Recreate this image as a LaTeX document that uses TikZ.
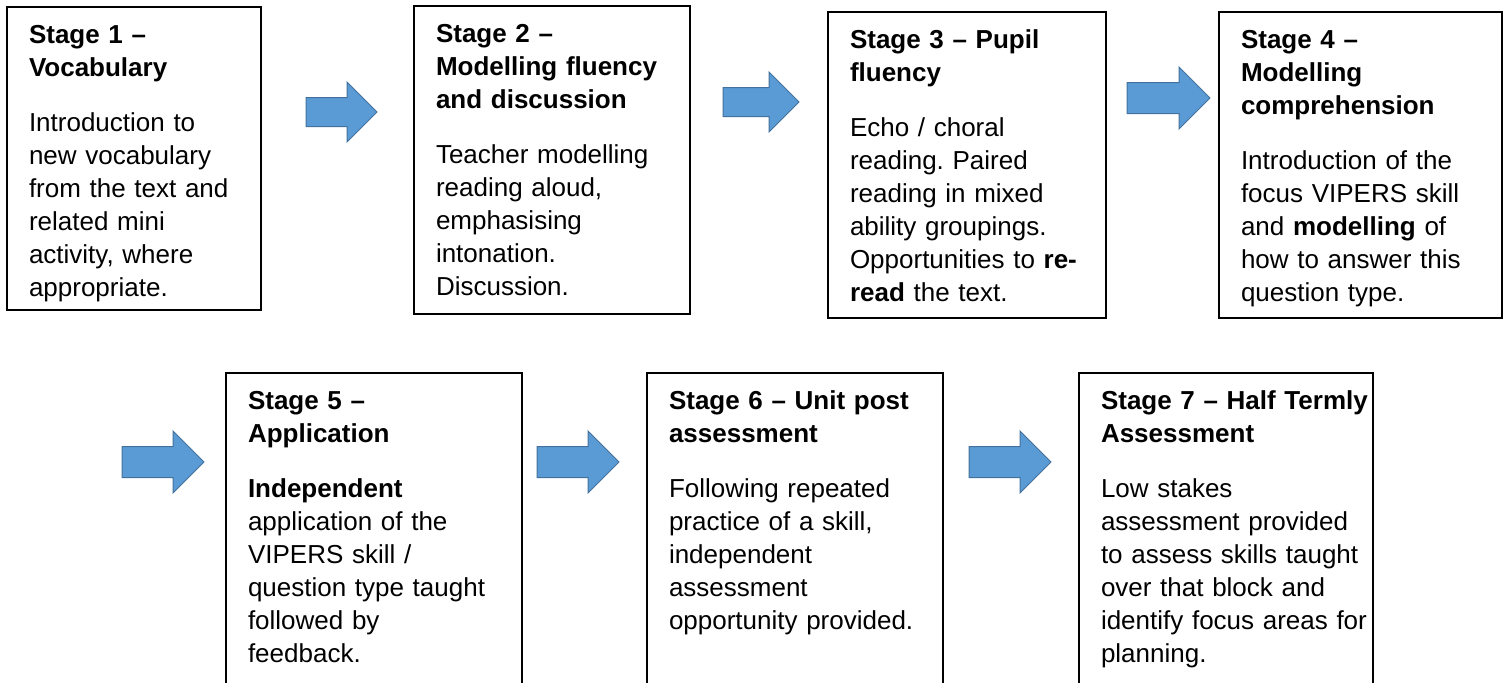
\documentclass[tikz,border=0pt]{standalone}
\usepackage{fontspec}
\setmainfont{Liberation Sans}
\usetikzlibrary{shapes.arrows}

\definecolor{arrowblue}{HTML}{5B9BD5}
\definecolor{arrowline}{HTML}{41719C}

\tikzset{
	stagebox/.style={draw=black, line width=0.75pt, rectangle, anchor=north west, align=left,
		inner xsep=0pt, inner ysep=0pt, outer sep=0pt, text height=18pt,
		execute at begin node={\leftskip=11pt\frenchspacing},
		font=\fontsize{13pt}{16.5pt}\selectfont},
	blockarrow/.style={single arrow, draw=arrowline, fill=arrowblue, line width=0.5pt,
		inner sep=0pt, outer sep=0pt, anchor=tail, text height=15pt, text depth=0pt,
		single arrow head extend=7.75pt, minimum height=41pt}
}
\newcommand{\stagegap}{\par\vspace{11pt}}

\begin{document}
\begin{tikzpicture}[x=0.5pt, y=-0.5pt]
	\useasboundingbox (0,0) rectangle (1504,682);
	\clip (0,0) rectangle (1504,682);

	\node[stagebox, text width=127pt, text depth=133.5pt] (stage1) at (7,7)
		{{\bfseries Stage 1 –\\Vocabulary}\stagegap
		Introduction to\\new vocabulary\\from the text and\\related mini\\activity, where\\appropriate.};
	\node[stagebox, text width=138pt, text depth=136pt] (stage2) at (414,6)
		{{\bfseries Stage 2 –\\Modelling fluency\\and discussion}\stagegap
		Teacher modelling\\reading aloud,\\emphasising\\intonation.\\Discussion.};
	\node[stagebox, text width=139pt, text depth=135pt] (stage3) at (828,12)
		{{\bfseries Stage 3 – Pupil\\fluency}\stagegap
		Echo / choral\\reading. Paired\\reading in mixed\\ability groupings.\\Opportunities to \textbf{re-}\\\textbf{read} the text.};
	\node[stagebox, text width=141.5pt, text depth=135pt] (stage4) at (1219,12)
		{{\bfseries Stage 4 –\\Modelling\\comprehension}\stagegap
		Introduction of the\\focus VIPERS skill\\and \textbf{modelling} of\\how to answer this\\question type.};

	\node[stagebox, text width=148pt, text depth=140.5pt] (stage5) at (226,373)
		{{\bfseries Stage 5 –\\Application}\stagegap
		\textbf{Independent}\\application of the\\VIPERS skill /\\question type taught\\followed by\\feedback.};
	\node[stagebox, text width=148pt, text depth=140.5pt] (stage6) at (647,373)
		{{\bfseries Stage 6 – Unit post\\assessment}\stagegap
		Following repeated\\practice of a skill,\\independent\\assessment\\opportunity provided.};
	\node[stagebox, text width=147pt, text depth=140.5pt] (stage7) at (1079,373)
		{{\bfseries Stage 7 – Half Termly\\Assessment}\stagegap
		Low stakes\\assessment provided\\to assess skills taught\\over that block and\\identify focus areas for\\planning.};

	\node[blockarrow, text height=14pt, minimum height=35.5pt] (arrow12) at (306,112) {};
	\node[blockarrow, text height=14pt, minimum height=38pt] (arrow23) at (723,102) {};
	\node[blockarrow, minimum height=41.5pt] (arrow34) at (1127,98) {};

	\node[blockarrow] (arrow45) at (122,462) {};
	\node[blockarrow] (arrow56) at (537,462) {};
	\node[blockarrow] (arrow67) at (969,462) {};
\end{tikzpicture}
\end{document}
